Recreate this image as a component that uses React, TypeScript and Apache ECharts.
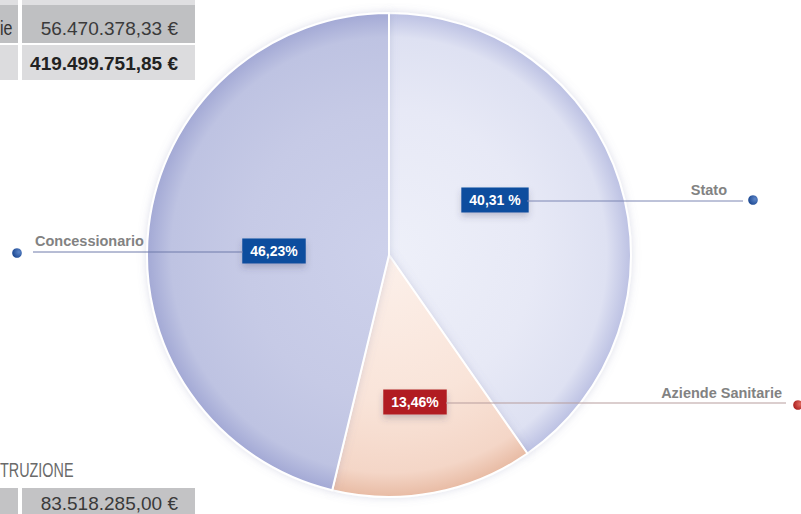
import React, { useEffect, useRef } from 'react';
import * as echarts from 'echarts';

// ---- data ----
const categories = ['Stato', 'Aziende Sanitarie', 'Concessionario'];
const shares = [40.31, 13.46, 46.23];
const percentSuffix = [' %', '%', '%'];
const topTableLabel = 'ie';
const topTableValues = ['56.470.378,33 €', '419.499.751,85 €'];
const bottomTableTitle = 'TRUZIONE';
const bottomTableValues = ['83.518.285,00 €'];

// ---- layout / style ----
const CX = 389;
const CY = 255;
const R = 242;
const FONT = '"Liberation Sans", Arial, Helvetica, sans-serif';

const sliceStops = [
  ['#eef0f9', '#e7e9f6', '#dee1f2', '#bcc1e3'],
  ['#fcf0ea', '#f9e4d9', '#f4d6c7', '#e8bba4'],
  ['#cdd1eb', '#c6cae6', '#bec3e2', '#a3a9d5'],
];
const boxColors = ['#0d4d9e', '#b11e20', '#0d4d9e'];
const lineColors = ['#7c86b3', '#b79d9d', '#6f7aaa'];
const percentPos = [
  [495, 200],
  [415, 402],
  [274, 251],
];
const nameLayout = [
  { x: 727, y: 190, align: 'right', line: [527, 201, 743] },
  { x: 782, y: 393, align: 'right', line: [446, 403, 786] },
  { x: 35, y: 241, align: 'left', line: [243, 252, 33] },
];
const dots = [
  { x: 753, y: 200, c1: '#5d86c8', c2: '#123f8a' },
  { x: 798, y: 405, c1: '#e06a60', c2: '#a51515' },
  { x: 17, y: 253, c1: '#5d86c8', c2: '#123f8a' },
];

function fmt(v: number, i: number) {
  return v.toFixed(2).replace('.', ',') + percentSuffix[i];
}

export default function App() {
  const ref = useRef<HTMLDivElement>(null);
  useEffect(() => {
    if (!ref.current) return;
    const chart = echarts.init(ref.current, undefined, { renderer: 'svg' });

    const mainData = categories.map((name, i) => ({
      name,
      value: shares[i],
      itemStyle: {
        color: {
          type: 'radial',
          x: CX,
          y: CY,
          r: R,
          global: true,
          colorStops: [
            { offset: 0, color: sliceStops[i][0] },
            { offset: 0.6, color: sliceStops[i][1] },
            { offset: 0.9, color: sliceStops[i][2] },
            { offset: 1, color: sliceStops[i][3] },
          ],
        },
      },
      label: {
        backgroundColor: boxColors[i],
      },
    }));

    const nameData = categories.map((name, i) => ({
      name,
      value: shares[i],
    }));

    const graphic: any[] = [];
    // top-left table fragment
    graphic.push(
      { type: 'rect', shape: { x: 0, y: 0, width: 18, height: 5 }, style: { fill: '#dfdfe1' } },
      { type: 'rect', shape: { x: 22, y: 0, width: 173, height: 5 }, style: { fill: '#dfdfe1' } },
      { type: 'rect', shape: { x: 0, y: 5, width: 18, height: 38 }, style: { fill: '#bfc0c2' } },
      { type: 'rect', shape: { x: 22, y: 5, width: 173, height: 38 }, style: { fill: '#bfc0c2' } },
      { type: 'rect', shape: { x: 0, y: 45, width: 18, height: 35 }, style: { fill: '#dcdcde' } },
      { type: 'rect', shape: { x: 22, y: 45, width: 173, height: 35 }, style: { fill: '#dcdcde' } },
      {
        type: 'text',
        x: 0,
        y: 28,
        scaleX: 0.8,
        style: { text: topTableLabel, font: `20px ${FONT}`, fill: '#333', align: 'left', verticalAlign: 'middle' },
      },
      {
        type: 'text',
        x: 178,
        y: 28,
        style: { text: topTableValues[0], font: `19px ${FONT}`, fill: '#3a3a3a', align: 'right', verticalAlign: 'middle' },
      },
      {
        type: 'text',
        x: 178,
        y: 63,
        style: { text: topTableValues[1], font: `bold 19px ${FONT}`, fill: '#222', align: 'right', verticalAlign: 'middle' },
      },
      // bottom-left fragment
      {
        type: 'text',
        x: 0,
        y: 470,
        scaleX: 0.72,
        style: {
          text: bottomTableTitle,
          font: `20px ${FONT}`,
          fill: '#6a6a6a',
          align: 'left',
          verticalAlign: 'middle',
        },
      },
      { type: 'rect', shape: { x: 0, y: 488, width: 18, height: 26 }, style: { fill: '#c3c3c5' } },
      { type: 'rect', shape: { x: 22, y: 488, width: 173, height: 26 }, style: { fill: '#c3c3c5' } },
      {
        type: 'text',
        x: 178,
        y: 503,
        style: { text: bottomTableValues[0], font: `19px ${FONT}`, fill: '#3a3a3a', align: 'right', verticalAlign: 'middle' },
      }
    );
    nameLayout.forEach((l, i) => {
      graphic.push({
        type: 'line',
        z: 50,
        shape: { x1: l.line[0], y1: l.line[1], x2: l.line[2], y2: l.line[1] },
        style: { stroke: lineColors[i], lineWidth: 1 },
      });
    });
    dots.forEach((d) => {
      graphic.push({
        type: 'circle',
        shape: { cx: d.x, cy: d.y, r: 4.8 },
        z: 50,
        style: {
          fill: new echarts.graphic.RadialGradient(0.7, 0.4, 0.8, [
            { offset: 0, color: d.c1 },
            { offset: 1, color: d.c2 },
          ]),
        },
      });
    });

    chart.setOption({
      animation: false,
      backgroundColor: '#ffffff',
      graphic,
      series: [
        {
          type: 'pie',
          center: [CX, CY],
          radius: [0, R],
          startAngle: 90,
          clockwise: true,
          silent: true,
          itemStyle: {
            borderColor: '#ffffff',
            borderWidth: 2,
            shadowBlur: 8,
            shadowColor: 'rgba(120,125,170,0.25)',
          },
          label: {
            show: true,
            position: 'inside',
            formatter: (p: any) => fmt(p.value, p.dataIndex),
            color: '#ffffff',
            fontFamily: FONT,
            fontWeight: 'bold',
            fontSize: 14,
            lineHeight: 15,
            padding: [5, 8, 5, 8],
            shadowBlur: 6,
            shadowOffsetY: 4,
            shadowColor: 'rgba(60,60,90,0.25)',
          },
          labelLine: { show: false },
          labelLayout: (p: any) => ({
            x: percentPos[p.dataIndex][0],
            y: percentPos[p.dataIndex][1],
            align: 'center',
            verticalAlign: 'middle',
          }),
          data: mainData,
          z: 2,
        },
        {
          type: 'pie',
          center: [CX, CY],
          radius: [0, R],
          startAngle: 90,
          clockwise: true,
          silent: true,
          itemStyle: { color: 'rgba(0,0,0,0)', borderWidth: 0 },
          label: {
            show: true,
            position: 'outside',
            formatter: '{b}',
            color: '#828282',
            fontFamily: FONT,
            fontWeight: 'bold',
            fontSize: 14.5,
            overflow: 'none',
            width: 200,
          },
          labelLine: { show: false },
          labelLayout: (p: any) => {
            const l = nameLayout[p.dataIndex];
            return {
              x: l.x,
              y: l.y,
              align: l.align,
              verticalAlign: 'middle',
            };
          },
          data: nameData,
          z: 1,
        },
      ],
    });
    return () => chart.dispose();
  }, []);
  return (
    <div
      ref={ref}
      style={{ position: 'fixed', left: 0, top: 0, width: 801, height: 514 }}
    />
  );
}
